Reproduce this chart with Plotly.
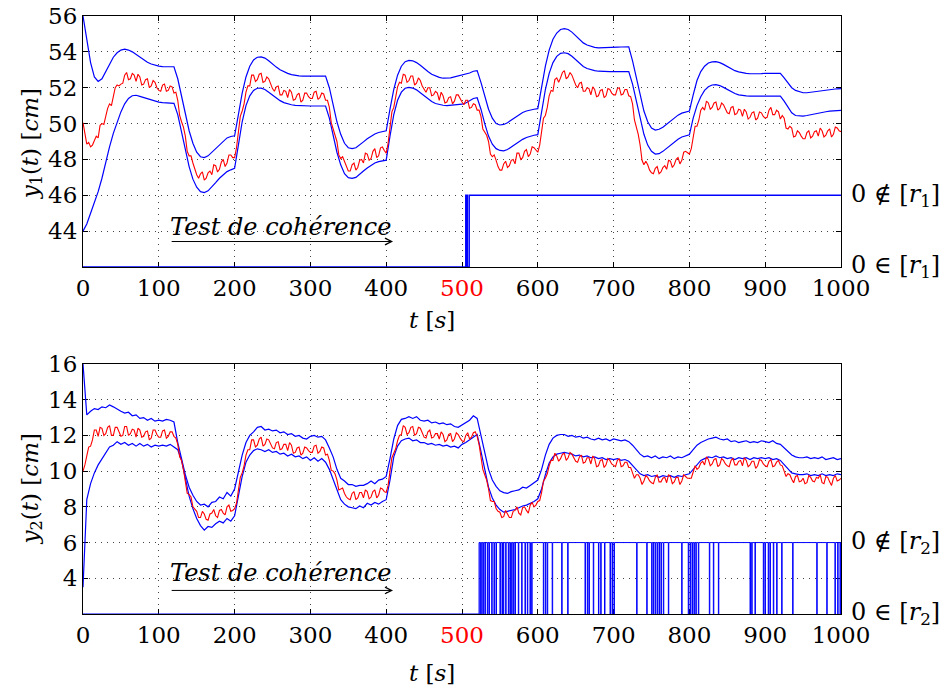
import plotly.graph_objects as go

# ---------------- data ----------------
t_grid = list(range(0, 1001, 5))          # samples at 0, 5, ..., 1000 s
t_mid = [k * 5 + 2.5 for k in range(200)]  # extra samples of the noisy measurements

# top plot: y1(t)
y1_upper = [
    56.0, 54.6, 53.4, 52.6, 52.35, 52.5, 52.9, 53.3, 53.7, 53.95,
    54.1, 54.15, 54.1, 54.0, 53.85, 53.7, 53.55, 53.42, 53.32, 53.25,
    53.2, 53.18, 53.17, 53.17, 53.17, 52.5, 51.5, 50.5, 49.6, 48.9,
    48.4, 48.15, 48.1, 48.2, 48.4, 48.65, 48.85, 49.05, 49.2, 49.28,
    49.32, 50.5, 51.7, 52.6, 53.2, 53.55, 53.7, 53.72, 53.65, 53.5,
    53.3, 53.15, 53.0, 52.88, 52.8, 52.73, 52.68, 52.66, 52.65, 52.65,
    52.65, 52.65, 52.65, 52.65, 52.65, 52.0, 51.0, 50.1, 49.4, 48.9,
    48.65, 48.6, 48.65, 48.8, 48.98, 49.15, 49.3, 49.42, 49.5, 49.55,
    49.6, 50.8, 51.9, 52.7, 53.2, 53.45, 53.52, 53.5, 53.4, 53.25,
    53.05, 52.9, 52.75, 52.65, 52.58, 52.53, 52.52, 52.55, 52.6, 52.65,
    52.7, 52.75, 52.82, 52.92, 52.95, 52.3, 51.5, 50.8, 50.3, 50.0,
    49.92, 49.95, 50.05, 50.2, 50.35, 50.5, 50.62, 50.7, 50.76, 50.8,
    50.83, 52.0, 53.2, 54.1, 54.7, 55.05, 55.25, 55.3, 55.25, 55.1,
    54.9, 54.7, 54.5, 54.38, 54.3, 54.25, 54.22, 54.22, 54.23, 54.24,
    54.25, 54.26, 54.27, 54.27, 54.28, 53.5, 52.5, 51.5, 50.7, 50.1,
    49.75, 49.64, 49.68, 49.8, 49.97, 50.15, 50.32, 50.47, 50.58, 50.65,
    50.7, 51.6, 52.4, 52.9, 53.2, 53.38, 53.44, 53.45, 53.4, 53.3,
    53.18, 53.05, 52.95, 52.88, 52.83, 52.8, 52.78, 52.77, 52.78, 52.79,
    52.8, 52.8, 52.8, 52.8, 52.8, 52.55, 52.25, 52.0, 51.85, 51.77,
    51.72, 51.72, 51.75, 51.78, 51.82, 51.85, 51.88, 51.9, 51.92, 51.94,
    51.95]

y1_lower = [
    44.0, 44.4, 45.0, 45.6, 46.2, 46.95, 47.85, 48.7, 49.45, 50.1,
    50.65, 51.1, 51.4, 51.55, 51.58, 51.52, 51.45, 51.38, 51.3, 51.24,
    51.2, 51.17, 51.15, 51.13, 51.13, 50.5, 49.5, 48.5, 47.6, 46.9,
    46.45, 46.2, 46.15, 46.25, 46.45, 46.7, 46.95, 47.15, 47.32, 47.42,
    47.5, 48.8, 50.1, 51.0, 51.55, 51.85, 51.97, 51.98, 51.9, 51.75,
    51.58, 51.42, 51.28, 51.17, 51.1, 51.05, 51.02, 51.0, 51.0, 50.99,
    50.98, 50.98, 50.98, 50.98, 50.98, 50.3, 49.3, 48.4, 47.7, 47.2,
    46.98, 46.94, 47.0, 47.15, 47.35, 47.52, 47.68, 47.8, 47.88, 47.93,
    47.96, 49.3, 50.5, 51.3, 51.75, 51.97, 52.02, 51.98, 51.88, 51.72,
    51.55, 51.38, 51.23, 51.12, 51.05, 51.02, 51.0, 51.02, 51.04, 51.06,
    51.08, 51.15, 51.28, 51.4, 51.44, 50.8, 50.0, 49.3, 48.85, 48.6,
    48.5, 48.48, 48.55, 48.7, 48.85, 49.0, 49.12, 49.22, 49.3, 49.35,
    49.38, 50.6, 51.9, 52.8, 53.4, 53.75, 53.92, 53.95, 53.9, 53.75,
    53.55, 53.35, 53.18, 53.07, 53.0, 52.95, 52.92, 52.9, 52.9, 52.9,
    52.9, 52.9, 52.9, 52.9, 52.9, 52.2, 51.2, 50.2, 49.4, 48.8,
    48.45, 48.3, 48.32, 48.45, 48.62, 48.8, 48.98, 49.13, 49.25, 49.32,
    49.37, 50.3, 51.0, 51.5, 51.85, 52.05, 52.15, 52.17, 52.12, 52.02,
    51.9, 51.78, 51.68, 51.6, 51.56, 51.54, 51.53, 51.53, 51.53, 51.53,
    51.53, 51.53, 51.53, 51.53, 51.53, 51.25, 50.9, 50.6, 50.45, 50.42,
    50.42, 50.45, 50.5, 50.55, 50.59, 50.63, 50.66, 50.69, 50.71, 50.73,
    50.74]

y1_meas = [
    50.05, 48.85, 48.7, 49.1, 49.2, 50.0, 50.4, 51.1, 51.5, 52.15,
    52.2, 52.7, 52.45, 52.8, 52.35, 52.6, 52.2, 52.5, 52.1, 52.3,
    51.85, 52.15, 51.8, 52.1, 51.7, 51.3, 50.1, 49.3, 48.2, 47.8,
    47.15, 47.2, 46.85, 47.25, 47.15, 47.65, 47.45, 48.0, 47.8, 48.25,
    48.1, 49.6, 50.7, 51.75, 52.1, 52.7, 52.45, 52.8, 52.35, 52.5,
    51.95, 52.05, 51.6, 51.85, 51.45, 51.75, 51.35, 51.7, 51.3, 51.7,
    51.4, 51.75, 51.35, 51.7, 51.3, 50.9, 49.7, 49.0, 48.05, 47.85,
    47.35, 47.7, 47.4, 47.95, 47.8, 48.3, 48.05, 48.6, 48.2, 48.7,
    48.35, 49.9, 50.9, 52.05, 52.25, 52.7, 52.4, 52.65, 52.25, 52.4,
    51.9, 52.0, 51.55, 51.8, 51.3, 51.55, 51.2, 51.5, 51.25, 51.6,
    51.2, 51.3, 50.85, 51.1, 50.75, 50.4, 49.5, 49.0, 48.15, 47.95,
    47.4, 47.75, 47.55, 47.95, 47.75, 48.35, 48.1, 48.55, 48.3, 48.65,
    48.4, 49.6, 50.45, 51.55, 51.8, 52.55, 52.55, 52.95, 52.6, 52.7,
    52.15, 52.25, 51.8, 52.0, 51.6, 51.9, 51.55, 51.9, 51.55, 51.9,
    51.6, 51.95, 51.6, 51.9, 51.55, 51.1, 49.85, 48.8, 47.7, 47.7,
    47.25, 47.5, 47.2, 47.55, 47.45, 47.9, 47.7, 48.1, 47.95, 48.45,
    48.3, 49.3, 49.85, 50.75, 50.75, 51.15, 50.9, 51.2, 50.85, 51.05,
    50.6, 50.9, 50.5, 50.8, 50.4, 50.65, 50.35, 50.65, 50.3, 50.6,
    50.3, 50.75, 50.5, 50.75, 50.25, 50.3, 49.7, 49.75, 49.3, 49.5,
    49.15, 49.5, 49.2, 49.55, 49.3, 49.6, 49.35, 49.7, 49.4, 49.75,
    49.55]

y1_meas_mid = [
    49.3, 48.95, 48.8, 49.3, 49.9, 49.95, 50.85, 51.0, 52.0, 52.1,
    52.25, 52.85, 52.5, 52.7, 52.75, 52.15, 52.45, 52.0, 52.4, 52.0,
    51.8, 52.2, 51.85, 52.05, 51.75, 50.45, 49.8, 48.45, 48.2, 47.45,
    46.95, 47.3, 46.95, 47.35, 47.7, 47.3, 47.85, 47.6, 48.25, 48.1,
    48.65, 50.4, 51.1, 52.1, 52.7, 52.35, 52.75, 52.3, 52.6, 52.2,
    51.8, 52.1, 51.6, 51.8, 51.9, 51.3, 51.6, 51.2, 51.7, 51.5,
    51.4, 51.8, 51.45, 51.65, 51.3, 50.05, 49.45, 48.25, 48.15, 47.55,
    47.35, 47.8, 47.55, 48.0, 48.35, 47.95, 48.45, 48.1, 48.65, 48.5,
    48.9, 50.65, 51.4, 52.3, 52.75, 52.3, 52.65, 52.15, 52.55, 52.1,
    51.75, 52.0, 51.6, 51.7, 51.75, 51.15, 51.45, 51.1, 51.6, 51.35,
    51.05, 51.3, 50.9, 51.05, 50.75, 49.7, 49.35, 48.3, 48.25, 47.6,
    47.4, 47.9, 47.65, 48.0, 48.35, 48.0, 48.45, 48.15, 48.7, 48.5,
    48.8, 50.3, 50.9, 51.85, 52.45, 52.3, 52.85, 52.5, 52.85, 52.4,
    52.0, 52.3, 51.8, 51.95, 52.05, 51.5, 51.85, 51.45, 51.95, 51.7,
    51.6, 52.0, 51.65, 51.9, 51.5, 50.2, 49.4, 47.95, 47.9, 47.4,
    47.2, 47.6, 47.3, 47.65, 47.95, 47.55, 48.0, 47.75, 48.4, 48.35,
    48.6, 49.85, 50.2, 50.9, 51.25, 50.8, 51.15, 50.75, 51.15, 50.8,
    50.55, 50.95, 50.55, 50.75, 50.8, 50.25, 50.6, 50.2, 50.65, 50.4,
    50.35, 50.9, 50.5, 50.65, 50.45, 49.75, 49.85, 49.25, 49.6, 49.3,
    49.15, 49.6, 49.3, 49.6, 49.75, 49.25, 49.6, 49.25, 49.8, 49.6]

# consistency test r1 (plotted at 42 = "0 in [r1]", 46 = "0 not in [r1]")
r1_test_t = [0, 505, 507, 509.5, 1000]
r1_test_v = [42, 46, 42, 46, 46]

# bottom plot: y2(t)
y2_upper = [
    16.0, 13.15, 13.35, 13.5, 13.45, 13.6, 13.55, 13.7, 13.6, 13.45,
    13.35, 13.25, 13.3, 13.1, 13.15, 12.95, 13.0, 12.85, 12.95, 12.8,
    12.85, 12.8, 12.9, 12.85, 12.75, 11.6, 10.6, 9.8, 9.1, 8.65,
    8.3, 8.1, 8.15, 8.0, 8.25, 8.3, 8.55, 8.45, 8.8, 8.6,
    9.0, 9.9, 10.9, 11.6, 12.0, 12.2, 12.45, 12.5, 12.3, 12.35,
    12.25, 12.3, 12.15, 12.2, 12.05, 12.1, 11.95, 12.0, 11.85, 11.8,
    11.95, 12.0, 11.9, 11.95, 11.75, 11.3, 10.8, 10.1, 9.6, 9.45,
    9.25, 9.25, 9.15, 9.2, 9.2, 9.3, 9.45, 9.3, 9.5, 9.55,
    9.7, 10.7, 11.8, 12.55, 12.9, 12.95, 13.05, 12.95, 13.05, 12.85,
    12.8, 12.85, 12.7, 12.75, 12.65, 12.7, 12.6, 12.65, 12.5, 12.45,
    12.6, 12.7, 12.85, 13.1, 12.95, 12.0, 11.0, 10.1, 9.5, 9.15,
    8.9, 8.8, 8.75, 8.85, 8.9, 8.95, 9.1, 9.05, 9.2, 9.35,
    9.5, 10.1, 10.9, 11.5, 11.85, 12.0, 12.05, 12.05, 11.95, 12.0,
    11.9, 11.95, 11.85, 11.9, 11.8, 11.75, 11.85, 11.75, 11.8, 11.7,
    11.8, 11.75, 11.7, 11.75, 11.65, 11.45, 11.2, 10.95, 10.8, 10.85,
    10.75, 10.85, 10.7, 10.8, 10.75, 10.85, 10.7, 10.8, 10.75, 10.85,
    10.95, 11.2, 11.45, 11.6, 11.7, 11.8, 11.85, 11.9, 11.8, 11.75,
    11.8, 11.65, 11.7, 11.6, 11.65, 11.7, 11.6, 11.65, 11.6, 11.7,
    11.65, 11.6, 11.7, 11.55, 11.5, 11.3, 11.05, 10.9, 10.8, 10.75,
    10.75, 10.8, 10.7, 10.75, 10.7, 10.8, 10.65, 10.7, 10.75, 10.65,
    10.7]

y2_lower = [
    3.5, 8.4, 9.3, 9.9, 10.35, 10.7, 11.0, 11.35, 11.45, 11.65,
    11.5, 11.6, 11.45, 11.55, 11.4, 11.55, 11.4, 11.5, 11.35, 11.45,
    11.4, 11.45, 11.4, 11.5, 11.35, 11.2, 10.6, 9.6, 8.6, 7.9,
    7.35, 6.95, 6.7, 6.9, 6.85, 7.05, 7.2, 7.1, 7.35, 7.2,
    7.5, 8.6, 9.7, 10.5, 10.9, 11.15, 11.25, 11.2, 11.1, 11.2,
    11.05, 11.1, 10.95, 11.0, 10.85, 10.95, 10.8, 10.85, 10.7, 10.8,
    10.6, 10.75, 10.55, 10.7, 10.5, 10.1, 9.5, 8.9, 8.4, 8.15,
    8.0, 7.95, 7.9, 8.05, 7.95, 8.2, 8.1, 8.25, 8.15, 8.3,
    8.4, 9.5, 10.8, 11.4, 11.7, 11.8, 11.85, 11.7, 11.75, 11.6,
    11.6, 11.5, 11.55, 11.45, 11.5, 11.4, 11.45, 11.35, 11.4, 11.3,
    11.5, 11.6, 11.75, 11.95, 12.05, 11.1, 10.0, 9.1, 8.5, 8.1,
    7.85, 7.7, 7.75, 7.8, 7.85, 7.95, 8.05, 8.1, 8.2, 8.3,
    8.45, 9.0, 9.8, 10.45, 10.8, 10.95, 11.0, 11.05, 11.0, 10.95,
    10.85, 10.9, 10.8, 10.85, 10.75, 10.8, 10.7, 10.75, 10.65, 10.7,
    10.65, 10.7, 10.6, 10.65, 10.55, 10.3, 10.05, 9.85, 9.75, 9.8,
    9.7, 9.75, 9.65, 9.75, 9.7, 9.75, 9.65, 9.75, 9.7, 9.8,
    9.85, 10.1, 10.35, 10.6, 10.7, 10.8, 10.75, 10.85, 10.75, 10.8,
    10.7, 10.75, 10.65, 10.75, 10.7, 10.75, 10.65, 10.75, 10.7, 10.75,
    10.7, 10.75, 10.65, 10.7, 10.6, 10.35, 10.1, 9.9, 9.85, 9.8,
    9.8, 9.85, 9.75, 9.8, 9.75, 9.85, 9.75, 9.8, 9.75, 9.85,
    9.8]

y2_meas = [
    10.0, 10.85, 11.4, 12.3, 11.95, 12.4, 12.1, 12.55, 12.0, 12.45,
    11.95, 12.5, 12.0, 12.35, 11.9, 12.3, 11.95, 12.25, 11.85, 12.3,
    11.9, 12.25, 11.85, 12.2, 11.95, 11.5, 10.6, 9.4, 8.7, 8.0,
    7.75, 7.4, 7.6, 7.25, 7.65, 7.5, 7.8, 7.65, 8.0, 7.75,
    7.9, 8.9, 9.9, 10.9, 11.2, 11.75, 11.45, 11.9, 11.5, 11.75,
    11.3, 11.6, 11.2, 11.5, 11.15, 11.45, 11.05, 11.35, 11.0, 11.3,
    11.05, 11.4, 11.0, 11.35, 10.9, 10.6, 10.0, 9.5, 9.0, 8.75,
    8.45, 8.75, 8.4, 8.8, 8.5, 8.85, 8.55, 8.95, 8.65, 9.0,
    8.8, 10.0, 11.0, 11.7, 12.05, 12.45, 12.15, 12.5, 12.1, 12.4,
    11.9, 12.2, 11.85, 12.1, 11.8, 12.05, 11.75, 12.1, 11.8, 12.05,
    11.7, 12.0, 11.8, 12.15, 11.95, 10.9, 9.8, 9.0, 8.3, 7.9,
    7.7, 7.45, 7.6, 7.4, 7.8, 7.65, 7.95, 7.8, 8.1, 8.0,
    8.3, 8.8, 9.6, 10.3, 10.6, 10.85, 10.7, 11.0, 10.75, 10.95,
    10.55, 10.8, 10.45, 10.75, 10.4, 10.7, 10.3, 10.65, 10.35, 10.6,
    10.3, 10.6, 10.25, 10.5, 10.2, 9.9, 9.8, 9.6, 9.45, 9.65,
    9.35, 9.65, 9.4, 9.6, 9.35, 9.7, 9.4, 9.65, 9.45, 9.7,
    9.6, 9.95, 10.1, 10.45, 10.35, 10.65, 10.4, 10.7, 10.35, 10.6,
    10.3, 10.6, 10.35, 10.55, 10.3, 10.6, 10.35, 10.55, 10.3, 10.6,
    10.3, 10.55, 10.25, 10.5, 10.35, 10.0, 9.85, 9.55, 9.7, 9.4,
    9.6, 9.35, 9.65, 9.4, 9.6, 9.35, 9.7, 9.4, 9.6, 9.45,
    9.6]

y2_meas_mid = [
    10.35, 11.35, 11.75, 12.3, 12.45, 12.0, 12.45, 12.0, 12.45, 12.15,
    12.0, 12.5, 12.1, 12.3, 12.4, 11.9, 12.2, 11.75, 12.3, 12.05,
    11.9, 12.3, 11.95, 12.2, 11.85, 10.8, 10.1, 8.75, 8.55, 7.85,
    7.4, 7.75, 7.3, 7.6, 7.85, 7.4, 7.85, 7.55, 8.1, 7.8,
    8.2, 9.65, 10.3, 11.2, 11.75, 11.35, 11.8, 11.4, 11.8, 11.5,
    11.25, 11.65, 11.25, 11.5, 11.6, 11.0, 11.3, 10.9, 11.35, 11.15,
    11.05, 11.45, 11.1, 11.3, 10.95, 10.05, 9.85, 8.95, 9.05, 8.55,
    8.4, 8.85, 8.5, 8.8, 8.95, 8.45, 8.85, 8.5, 9.05, 8.85,
    9.2, 10.75, 11.25, 12.0, 12.55, 12.05, 12.45, 12.0, 12.45, 12.1,
    11.85, 12.3, 11.9, 12.1, 12.2, 11.65, 12.05, 11.65, 12.15, 11.85,
    11.65, 12.15, 11.9, 12.2, 11.5, 10.1, 9.5, 8.35, 8.3, 7.75,
    7.4, 7.8, 7.4, 7.75, 8.0, 7.55, 8.0, 7.65, 8.25, 8.1,
    8.35, 9.45, 9.85, 10.6, 11.0, 10.55, 10.95, 10.6, 11.05, 10.7,
    10.5, 10.9, 10.5, 10.75, 10.85, 10.25, 10.6, 10.2, 10.7, 10.4,
    10.25, 10.7, 10.3, 10.5, 10.2, 9.6, 9.8, 9.25, 9.75, 9.45,
    9.3, 9.8, 9.4, 9.65, 9.8, 9.3, 9.65, 9.25, 9.8, 9.6,
    9.6, 10.3, 10.2, 10.55, 10.8, 10.3, 10.65, 10.25, 10.7, 10.4,
    10.25, 10.7, 10.35, 10.6, 10.75, 10.25, 10.55, 10.15, 10.65, 10.4,
    10.25, 10.65, 10.3, 10.6, 10.3, 9.7, 9.8, 9.35, 9.75, 9.45,
    9.3, 9.75, 9.45, 9.65, 9.8, 9.3, 9.65, 9.2, 9.75, 9.5]

# consistency test r2: level 2 = "0 in [r2]", level 6 = "0 not in [r2]"
r2_low_level = 2
r2_high_level = 6
r2_rise_t = 522.5
r2_dip_times = [
    523.7, 526, 528.1, 530.3, 533.4, 535.6, 539.2, 542.2, 544.9, 550.1,
    552.8, 554.5, 557.6, 561.1, 563.3, 565.5, 567.7, 569.9, 574.3, 578.7,
    583.1, 586.2, 589.7, 591.9,
    607.3, 610, 612.5, 619, 631.5, 639.4,
    662.3, 665.3, 667.5, 673.2, 680, 683, 688, 695.3, 698, 700.5,
    730.4, 743.7, 750.2, 752.5, 755, 757.5, 760, 762.5, 765.6, 772.2,
    789.8, 798.5, 801, 803.5, 806, 808.5, 811.8, 826.3, 831.6, 838.2,
    880, 882.2, 886.5, 897.5, 899.7, 904, 906.3, 910.7, 915.1, 921.7,
    936.2, 968, 981.2, 992, 995.6, 998.7]
r2_dip_width = 0.6

t_ticks = [0, 100, 200, 300, 400, 500, 600, 700, 800, 900, 1000]
t_tick_labels = ["0", "100", "200", "300", "400", "500", "600", "700", "800", "900", "1000"]
y1_ticks = [44, 46, 48, 50, 52, 54, 56]
y1_tick_labels = ["44", "46", "48", "50", "52", "54", "56"]
y2_ticks = [4, 6, 8, 10, 12, 14, 16]
y2_tick_labels = ["4", "6", "8", "10", "12", "14", "16"]

for name, arr, ref in [("y1_upper", y1_upper, t_grid), ("y1_lower", y1_lower, t_grid),
                       ("y1_meas", y1_meas, t_grid), ("y1_meas_mid", y1_meas_mid, t_mid),
                       ("y2_upper", y2_upper, t_grid), ("y2_lower", y2_lower, t_grid),
                       ("y2_meas", y2_meas, t_grid), ("y2_meas_mid", y2_meas_mid, t_mid)]:
    assert len(arr) == len(ref), (name, len(arr))


def merge(t_a, v_a, t_b, v_b):
    pts = sorted(zip(list(t_a) + list(t_b), list(v_a) + list(v_b)))
    return [p[0] for p in pts], [p[1] for p in pts]


y1_meas_t, y1_meas_v = merge(t_grid, y1_meas, t_mid, y1_meas_mid)
y2_meas_t, y2_meas_v = merge(t_grid, y2_meas, t_mid, y2_meas_mid)

# build step series for r2 test
r2_t = [0, r2_rise_t]
r2_v = [r2_low_level, r2_high_level]
for d in r2_dip_times:
    r2_t += [d, d + r2_dip_width]
    r2_v += [r2_low_level, r2_high_level]
r2_t.append(1000)
r2_v.append(r2_high_level)

# ---------------- figure ----------------
BLUE = "#0000ff"
RED = "#ff0000"
FONT = "DejaVu Serif"
TICK_SIZE = 23

fig = go.Figure()

# top
fig.add_trace(go.Scatter(x=t_grid, y=y1_upper, mode="lines", line=dict(color=BLUE, width=1.2),
                         xaxis="x", yaxis="y", showlegend=False))
fig.add_trace(go.Scatter(x=t_grid, y=y1_lower, mode="lines", line=dict(color=BLUE, width=1.2),
                         xaxis="x", yaxis="y", showlegend=False))
fig.add_trace(go.Scatter(x=y1_meas_t, y=y1_meas_v, mode="lines", line=dict(color=RED, width=1.1),
                         xaxis="x", yaxis="y", showlegend=False))
fig.add_trace(go.Scatter(x=r1_test_t, y=r1_test_v, mode="lines", line=dict(color=BLUE, width=1.5, shape="hv"),
                         xaxis="x", yaxis="y", showlegend=False))

# bottom
fig.add_trace(go.Scatter(x=t_grid, y=y2_upper, mode="lines", line=dict(color=BLUE, width=1.2),
                         xaxis="x2", yaxis="y2", showlegend=False))
fig.add_trace(go.Scatter(x=t_grid, y=y2_lower, mode="lines", line=dict(color=BLUE, width=1.2),
                         xaxis="x2", yaxis="y2", showlegend=False))
fig.add_trace(go.Scatter(x=y2_meas_t, y=y2_meas_v, mode="lines", line=dict(color=RED, width=1.1),
                         xaxis="x2", yaxis="y2", showlegend=False))
fig.add_trace(go.Scatter(x=r2_t, y=r2_v, mode="lines", line=dict(color=BLUE, width=1, shape="hv"),
                         xaxis="x2", yaxis="y2", showlegend=False))

tick_text_x = [f'<span style="color:red">{s}</span>' if v == 500 else s
               for v, s in zip(t_ticks, t_tick_labels)]

common_axis = dict(
    showline=True, linecolor="black", linewidth=1.2, mirror="ticks",
    ticks="inside", ticklen=5, tickcolor="black",
    showgrid=True, gridcolor="#444444", gridwidth=1, griddash="1px,5px",
    zeroline=False, tickfont=dict(family=FONT, size=TICK_SIZE, color="black"),
    layer="below traces", automargin=False, ticklabeloverflow="allow",
)

fig.update_layout(
    width=951, height=691,
    margin=dict(l=83, r=110, t=16, b=77),
    paper_bgcolor="white", plot_bgcolor="white",
    font=dict(family=FONT, size=TICK_SIZE, color="black"),
    xaxis=dict(common_axis, domain=[0, 1], anchor="y", range=[0, 1000],
               tickvals=t_ticks, ticktext=tick_text_x),
    yaxis=dict(common_axis, domain=[0.5803, 1], anchor="x", range=[42, 56],
               tickvals=y1_ticks, ticktext=y1_tick_labels),
    xaxis2=dict(common_axis, domain=[0, 1], anchor="y2", range=[0, 1000],
                tickvals=t_ticks, ticktext=tick_text_x),
    yaxis2=dict(common_axis, domain=[0, 0.4181], anchor="x2", range=[2, 16],
                tickvals=y2_ticks, ticktext=y2_tick_labels),
)

title_font = dict(family=FONT, size=23, color="black")
label_font = dict(family=FONT, size=24, color="black")
ann = []
# axis titles
for ypos in [0.4916, -0.0987]:
    ann.append(dict(xref="paper", yref="paper", x=0.46, y=ypos, xanchor="center", yanchor="middle",
                    text="<i>t</i> [<i>s</i>]", showarrow=False, font=title_font))
for ypos, idx in [(0.787, "1"), (0.21, "2")]:
    ann.append(dict(xref="paper", yref="paper", x=-0.0673, y=ypos, xanchor="center", yanchor="middle",
                    textangle=-90, text=f"<i>y</i><sub>{idx}</sub>(<i>t</i>) [<i>cm</i>]",
                    showarrow=False, font=title_font))
# right-side test labels
for yref, hi, lo, idx in [("y", 46, 42, "1"), ("y2", 6, 2, "2")]:
    ann.append(dict(xref="paper", yref=yref, x=1.01, y=hi, xanchor="left", yanchor="middle",
                    text=f"0 ∉ [<i>r</i><sub>{idx}</sub>]", showarrow=False, font=label_font))
    ann.append(dict(xref="paper", yref=yref, x=1.01, y=lo, xanchor="left", yanchor="middle",
                    text=f"0 ∈ [<i>r</i><sub>{idx}</sub>]", showarrow=False, font=label_font))

# "Test de cohérence" text + arrow
for xr, yr, ytext, yarrow in [("x", "y", 44.25, 43.42), ("x2", "y2", 4.3, 3.32)]:
    ann.append(dict(xref=xr, yref=yr, x=260, y=ytext, xanchor="center", yanchor="middle",
                    text="<i>Test de cohérence</i>", showarrow=False,
                    font=dict(family=FONT, size=24, color="black")))
    ann.append(dict(xref=xr, yref=yr, x=409, y=yarrow, axref=xr, ayref=yr, ax=115, ay=yarrow,
                    text="", showarrow=True, arrowhead=5, arrowsize=1.3, arrowwidth=1,
                    arrowcolor="black"))

fig.update_layout(annotations=ann)

# remove the browser's default 8px body margin so the figure sits at the page origin
fig.write_html("out.html", config={"displayModeBar": False},
               post_script="document.body.style.margin='0px';")
